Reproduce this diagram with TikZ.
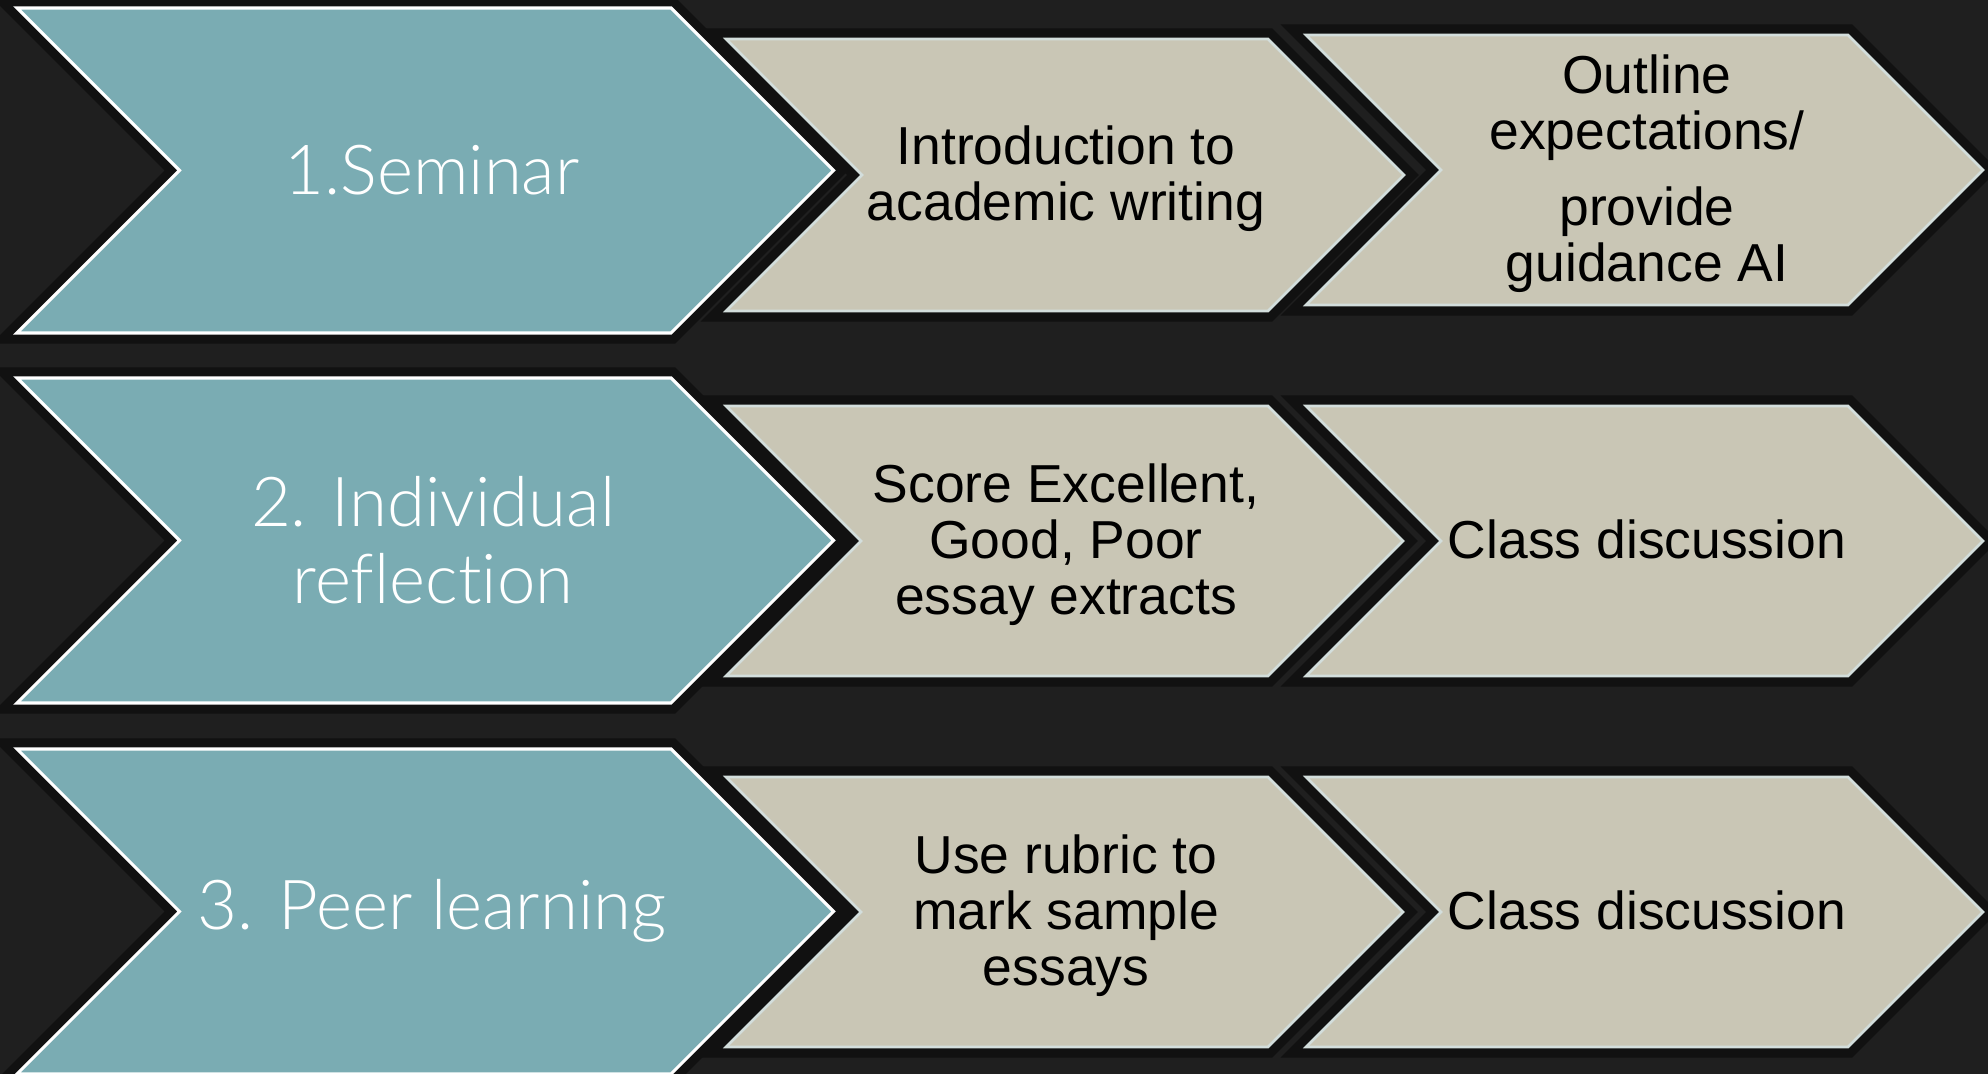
\documentclass[tikz,border=0pt]{standalone}
\usepackage{fontspec}
\setmainfont{Liberation Sans}
\IfFontExistsTF{Lato Light}{\newfontfamily\thinfont{Lato Light}[Ligatures={NoCommon}]}{\newfontfamily\thinfont{DejaVu Sans}}
\definecolor{bgcol}{HTML}{1F1F1F}
\definecolor{halocol}{HTML}{111111}
\definecolor{tealfill}{HTML}{7AACB3}
\definecolor{beigefill}{HTML}{C9C6B5}
\definecolor{beigeline}{HTML}{D3DEDC}
\newcommand\chevron[5]{%
  \path[#5] (#1,#2) -- (#3,#2) -- ({#3+#4/2},{#2+#4/2}) -- (#3,{#2+#4}) -- (#1,{#2+#4}) -- ({#1+#4/2},{#2+#4/2}) -- cycle;}
\tikzset{
  halo/.style={draw=halocol, fill=halocol, line width=6pt, line join=miter},
  tealshape/.style={fill=tealfill, draw=white, line width=0.9pt, line join=miter},
  beigeshape/.style={fill=beigefill, draw=beigeline, line width=0.75pt, line join=miter},
  tealtext/.style={text=white, align=center, font=\thinfont\fontsize{19.6}{22}\selectfont},
  beigetext/.style={text=black, align=center, font=\fontsize{15.2}{15.9}\selectfont}
}
\begin{document}
\begin{tikzpicture}[x=0.01cm,y=-0.01cm]
\fill[bgcol] (0,0) rectangle (1988,1074);
\useasboundingbox (0,0) rectangle (1988,1074);
% halos
\chevron{17}{8}{671}{325}{halo}
\chevron{17}{378}{671}{325}{halo}
\chevron{17}{749}{671}{325}{halo}
\chevron{726}{39}{1268}{272}{halo}
\chevron{726}{406}{1268}{270}{halo}
\chevron{726}{777}{1268}{270}{halo}
\chevron{1306}{35}{1848}{270}{halo}
\chevron{1306}{406}{1848}{270}{halo}
\chevron{1306}{777}{1848}{270}{halo}
% shapes
\chevron{17}{8}{671}{325}{tealshape}
\chevron{17}{378}{671}{325}{tealshape}
\chevron{17}{749}{671}{325}{tealshape}
\chevron{726}{39}{1268}{272}{beigeshape}
\chevron{726}{406}{1268}{270}{beigeshape}
\chevron{726}{777}{1268}{270}{beigeshape}
\chevron{1306}{35}{1848}{270}{beigeshape}
\chevron{1306}{406}{1848}{270}{beigeshape}
\chevron{1306}{777}{1848}{270}{beigeshape}
% texts
\node[tealtext] (s1) at (432,170) {1.Seminar};
\node[tealtext] (s2) at (433,540) {2. Individual\\reflection};
\node[tealtext] (s3) at (432,911) {3. Peer learning};
\node[beigetext] (a1) at (1066,179) {Introduction to\\academic writing};
\node[beigetext] (a2) at (1066,545) {Score Excellent,\\Good, Poor\\essay extracts};
\node[beigetext] (a3) at (1066,916) {Use rubric to\\mark sample\\essays};
\node[beigetext] (b1) at (1647,174) {Outline\\expectations/\\[5.7pt]provide\\guidance AI};
\node[beigetext] (b2) at (1647,539) {Class discussion};
\node[beigetext] (b3) at (1647,910) {Class discussion};
\end{tikzpicture}
\end{document}
